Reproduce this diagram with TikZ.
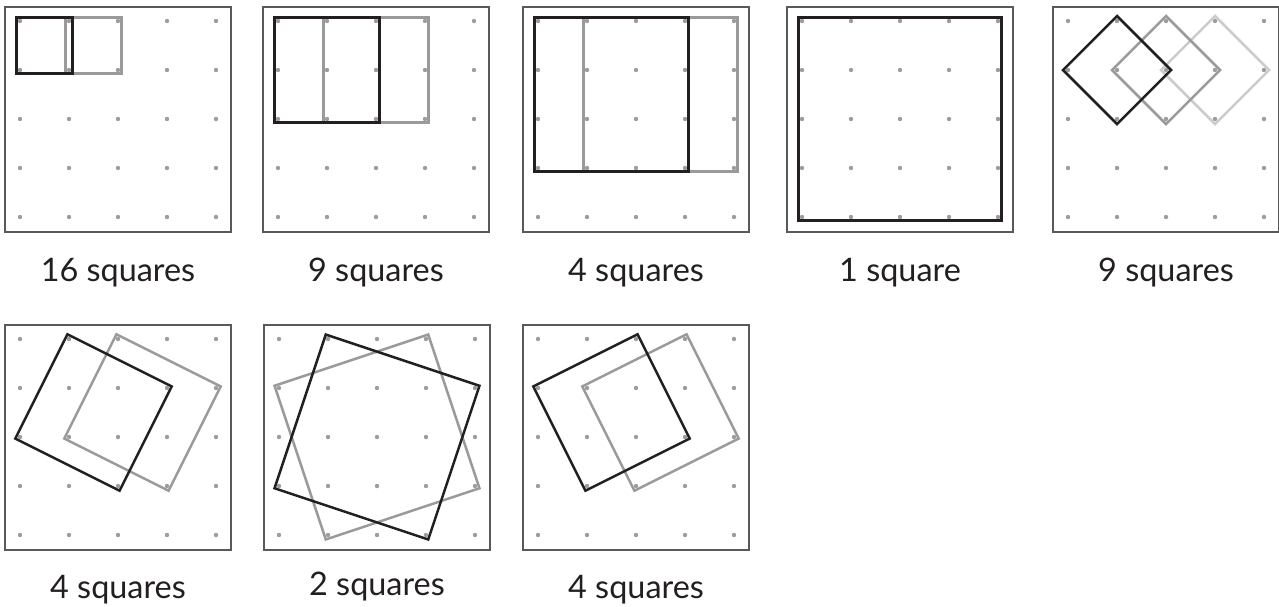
\documentclass[tikz,border=0pt]{standalone}
\usepackage{fontspec}
\setmainfont{Lato}
\usepackage{xcolor}
\usepackage{tikz}
\usetikzlibrary{calc}
\definecolor{geoframe}{HTML}{58595B}
\definecolor{geodot}{HTML}{9D9D9D}
\definecolor{geoblack}{HTML}{231F20}
\definecolor{geogray}{HTML}{9A9A9A}
\definecolor{geolight}{HTML}{CCCCCC}

\tikzset{
 board/.style={draw=geoframe,line width=0.85pt},
 peg/.style={fill=geodot},
 sqblack/.style={draw=geoblack,line width=1.25pt},
 sqgray/.style={draw=geogray,line width=1.25pt},
 sqlight/.style={draw=geolight,line width=1.25pt},
 lbl/.style={anchor=base,inner sep=0pt,text=geoblack,
  font=\fontsize{16.2}{20}\selectfont}
}

% frame and 5x5 pegs of one board (grid units inside the board scope)
\newcommand\pegboard{%
 \draw[board] (-0.3,-0.29) rectangle (4.3,4.3);
 \foreach \i in {0,...,4}
  \foreach \j in {0,...,4}
   \fill[peg] (\i,\j) circle[radius=1.1pt];}

% square through four pegs, corners pushed out a little
\newcommand\pegsquare[5]{%
 \coordinate (mid) at ($(#2)!0.5!(#4)$);
 \draw[#1] ($(#2)!-2.5pt!(mid)$) -- ($(#3)!-2.5pt!(mid)$)
  -- ($(#4)!-2.5pt!(mid)$) -- ($(#5)!-2.5pt!(mid)$) -- cycle;}

\begin{document}
\begin{tikzpicture}[x=0.5pt,y=-0.5pt]
% 1 unit = 1 px of the 1279 x 606 sheet, y runs down
\useasboundingbox (0,0) rectangle (1279,606);

% ── Row 1 ───────────────────────────────────────────────────────
\begin{scope}[shift={(20,21)},x=24.5pt,y=-24.5pt]
 \pegboard
 \pegsquare{sqgray}{1,0}{2,0}{2,1}{1,1}
 \pegsquare{sqblack}{0,0}{1,0}{1,1}{0,1}
\end{scope}
\node[lbl] (lab16) at (118,281) {16 squares};

\begin{scope}[shift={(278,21)},x=24.5pt,y=-24.5pt]
 \pegboard
 \pegsquare{sqgray}{1,0}{3,0}{3,2}{1,2}
 \pegsquare{sqblack}{0,0}{2,0}{2,2}{0,2}
\end{scope}
\node[lbl] (lab9a) at (376,281) {9 squares};

\begin{scope}[shift={(538,21)},x=24.5pt,y=-24.5pt]
 \pegboard
 \pegsquare{sqgray}{1,0}{4,0}{4,3}{1,3}
 \pegsquare{sqblack}{0,0}{3,0}{3,3}{0,3}
\end{scope}
\node[lbl] (lab4a) at (636,281) {4 squares};

\begin{scope}[shift={(802,21)},x=24.5pt,y=-24.5pt]
 \pegboard
 \pegsquare{sqblack}{0,0}{4,0}{4,4}{0,4}
\end{scope}
\node[lbl] (lab1) at (900,281) {1 square};

% diamonds: light under gray under black
\begin{scope}[shift={(1068,21)},x=24.5pt,y=-24.5pt]
 \pegboard
 \pegsquare{sqlight}{3,0}{4,1}{3,2}{2,1}
 \pegsquare{sqgray}{2,0}{3,1}{2,2}{1,1}
 \pegsquare{sqblack}{1,0}{2,1}{1,2}{0,1}
\end{scope}
\node[lbl] (lab9b) at (1166,281) {9 squares};

% ── Row 2: tilted squares ───────────────────────────────────────
\begin{scope}[shift={(20,339)},x=24.5pt,y=-24.5pt]
 \pegboard
 \pegsquare{sqgray}{2,0}{4,1}{3,3}{1,2}
 \pegsquare{sqblack}{1,0}{3,1}{2,3}{0,2}
\end{scope}
\node[lbl] (lab4b) at (118,598) {4 squares};

\begin{scope}[shift={(279,339)},x=24.5pt,y=-24.5pt]
 \pegboard
 \pegsquare{sqgray}{3,0}{4,3}{1,4}{0,1}
 \pegsquare{sqblack}{1,0}{4,1}{3,4}{0,3}
\end{scope}
\node[lbl] (lab2) at (377,595) {2 squares};

\begin{scope}[shift={(538,339)},x=24.5pt,y=-24.5pt]
 \pegboard
 \pegsquare{sqgray}{3,0}{4,2}{2,3}{1,1}
 \pegsquare{sqblack}{2,0}{3,2}{1,3}{0,1}
\end{scope}
\node[lbl] (lab4c) at (636,598) {4 squares};
\end{tikzpicture}
\end{document}
